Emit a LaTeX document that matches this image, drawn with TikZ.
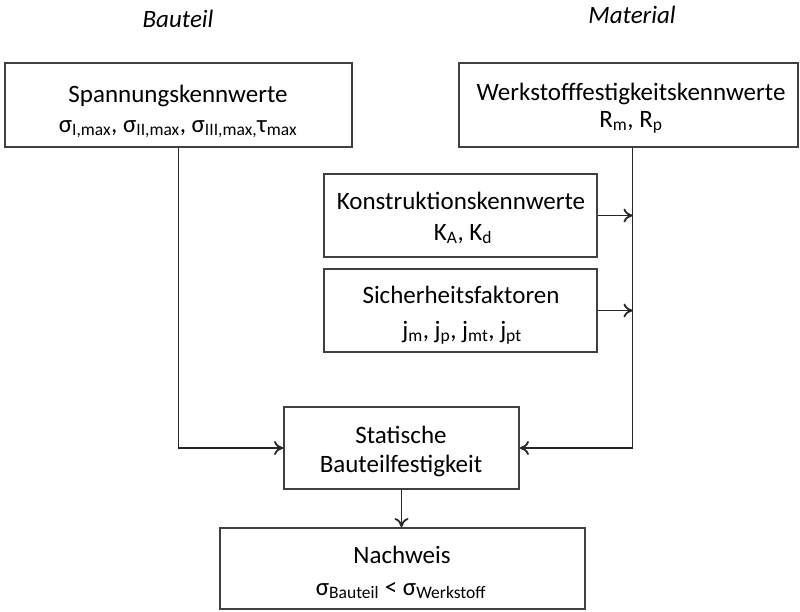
\documentclass[tikz,border=0pt]{standalone}
\usepackage{fontspec}
\setmainfont{Carlito}
\usetikzlibrary{arrows.meta}
\begin{document}
\begin{tikzpicture}[x=1pt,y=-1pt,
  box/.style={draw=black!75,line width=1.8pt,rectangle,inner sep=0pt},
  txt/.style={anchor=base,inner sep=0pt,font=\fontsize{25}{30}\selectfont},
  hd/.style={anchor=base,inner sep=0pt,font=\fontsize{25}{30}\selectfont\itshape},
  conn/.style={draw=black!85,line width=1.8pt,-{To[length=9pt,width=14pt]}},
  plain/.style={draw=black!85,line width=1.8pt}]
\useasboundingbox (0,0) rectangle (800,611);
% headings
\node[hd] (hb) at (178,27) {Bauteil};
\node[hd] (hm) at (632,23) {Material};
% boxes
\node[box,minimum width=347pt,minimum height=84pt] (sp) at (178.5,105) {};
\node[box,minimum width=339pt,minimum height=84pt] (wk) at (628.5,105) {};
\node[box,minimum width=273pt,minimum height=83pt] (ko) at (460.5,215.5) {};
\node[box,minimum width=273pt,minimum height=83pt] (si) at (460.5,310.5) {};
\node[box,minimum width=235pt,minimum height=82pt] (st) at (401.5,448) {};
\node[box,minimum width=365pt,minimum height=81pt] (na) at (402.5,568.5) {};
% texts
\node[txt] (sp1) at (178,102) {Spannungskennwerte};
\node[txt] (sp2) at (178,132) {σ\textsubscript{I,max}, σ\textsubscript{II,max}, σ\textsubscript{III,max,}τ\textsubscript{max}};
\node[txt] (wk1) at (631,100) {Werkstofffestigkeitskennwerte};
\node[txt] (wk2) at (631,127) {R\textsubscript{m}, R\textsubscript{p}};
\node[txt] (ko1) at (461,209) {Konstruktionskennwerte};
\node[txt] (ko2) at (463,240) {K\textsubscript{A}, K\textsubscript{d}};
\node[txt] (si1) at (461,303) {Sicherheitsfaktoren};
\node[txt] (si2) at (462,338) {j\textsubscript{m}, j\textsubscript{p}, j\textsubscript{mt}, j\textsubscript{pt}};
\node[txt] (st1) at (401,443) {Statische};
\node[txt] (st2) at (401,472) {Bauteilfestigkeit};
\node[txt] (na1) at (402,563) {Nachweis};
\node[txt] (na2) at (401,595) {σ\textsubscript{Bauteil} < σ\textsubscript{Werkstoff}};
% connectors
\coordinate (jr) at (632.5,448);
\draw[conn] (sp.south) |- (st.west);
\draw[plain] (wk.south -| jr) -- (jr);
\draw[conn] (jr) -- (st.east);
\draw[conn] (ko.east) -- (ko.east -| jr);
\draw[conn] (si.east) -- (si.east -| jr);
\draw[conn] (st.south) -- (st.south |- na.north);
\end{tikzpicture}
\end{document}
